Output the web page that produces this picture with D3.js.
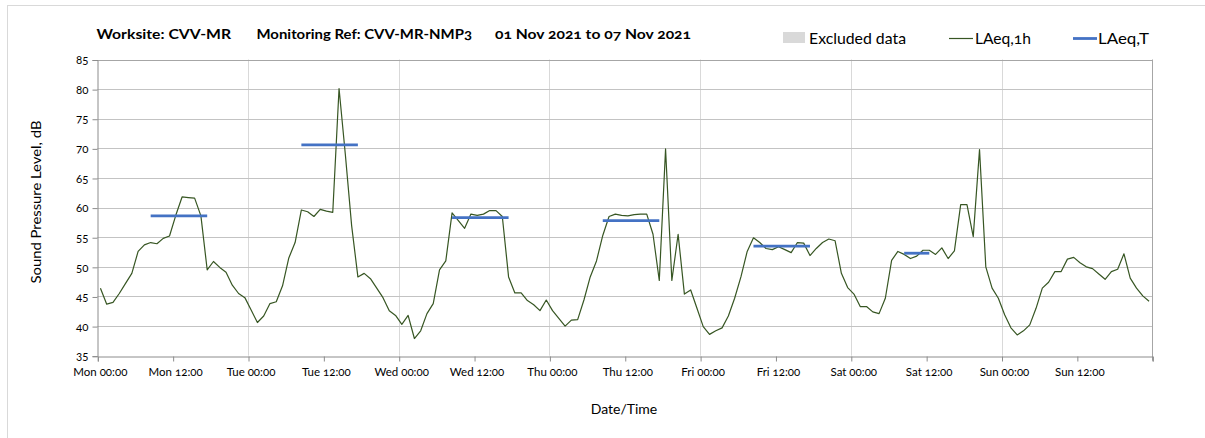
<!DOCTYPE html>
<html>
<head>
<meta charset="utf-8">
<script src="https://cdn.jsdelivr.net/npm/d3@7"></script>
<style>
  html, body { margin: 0; padding: 0; background: #fff; }
  svg { display: block; }
  text { font-family: Lato, "Open Sans", "DejaVu Sans", sans-serif; fill: #000; font-variant-numeric: oldstyle-nums; }
</style>
</head>
<body>
<svg id="chart" width="1205" height="438"></svg>
<script>
// ---------- DATA ----------
const titleParts = ["Worksite: CVV-MR", "Monitoring Ref: CVV-MR-NMP3", "01 Nov 2021 to 07 Nov 2021"];
const legendLabels = ["Excluded data", "LAeq,1h", "LAeq,T"];
const yAxisTitle = "Sound Pressure Level, dB";
const xAxisTitle = "Date/Time";
const startTime = Date.UTC(2021, 10, 1, 0, 0);          // Mon 01 Nov 2021 00:00
const endTime = Date.UTC(2021, 10, 8, 0, 0);
const yTicks = [35, 40, 45, 50, 55, 60, 65, 70, 75, 80, 85];
const xTickLabels = ["Mon 00:00", "Mon 12:00", "Tue 00:00", "Tue 12:00", "Wed 00:00", "Wed 12:00",
  "Thu 00:00", "Thu 12:00", "Fri 00:00", "Fri 12:00", "Sat 00:00", "Sat 12:00", "Sun 00:00", "Sun 12:00"];

// hourly LAeq,1h (one value per hour, Mon 00:00 .. Sun 23:00)
const laeq1h = [
  // Mon
  46.4, 43.7, 44.0, 45.5, 47.2, 48.9, 52.6, 53.7, 54.1, 53.9, 54.8, 55.2,
  58.7, 61.8, 61.7, 61.6, 58.6, 49.5, 50.9, 49.9, 49.1, 46.9, 45.5, 44.8,
  // Tue
  42.7, 40.6, 41.7, 43.8, 44.1, 46.8, 51.5, 54.1, 59.6, 59.3, 58.5, 59.7,
  59.4, 59.2, 80.1, 69.0, 57.0, 48.3, 48.9, 48.0, 46.4, 44.8, 42.6, 41.8,
  // Wed
  40.3, 41.8, 37.9, 39.2, 42.1, 43.8, 49.5, 51.0, 59.1, 57.8, 56.5, 58.9,
  58.7, 58.9, 59.5, 59.5, 58.5, 48.3, 45.6, 45.6, 44.3, 43.6, 42.6, 44.4,
  // Thu
  42.6, 41.3, 40.0, 41.0, 41.1, 44.4, 48.3, 51.0, 55.3, 58.5, 58.9, 58.7,
  58.6, 58.8, 58.9, 58.9, 55.5, 47.7, 69.9, 47.7, 55.5, 45.4, 46.1, 43.0,
  // Fri
  39.9, 38.6, 39.2, 39.7, 41.7, 44.7, 48.3, 52.6, 54.9, 54.1, 53.1, 52.9,
  53.4, 52.9, 52.4, 54.1, 54.0, 51.9, 53.1, 54.1, 54.7, 54.4, 48.9, 46.5,
  // Sat
  45.4, 43.3, 43.3, 42.4, 42.1, 44.7, 51.1, 52.6, 52.1, 51.4, 51.8, 52.8,
  52.8, 52.1, 53.2, 51.4, 52.7, 60.5, 60.5, 55.1, 69.8, 50.0, 46.4, 44.7,
  // Sun
  41.9, 39.7, 38.5, 39.2, 40.2, 43.0, 46.4, 47.4, 49.2, 49.2, 51.3, 51.6,
  50.7, 50.0, 49.7, 48.8, 47.9, 49.2, 49.6, 52.2, 48.1, 46.4, 45.1, 44.2
];

// LAeq,T periods: first and last hour index of each period, and level
const periodStartHour = [8, 32, 56, 80, 104, 128];
const periodEndHour   = [17, 41, 65, 89, 113, 132];
const laeqT           = [58.6, 70.6, 58.3, 57.8, 53.5, 52.3];

// ---------- CHART ----------
const svg = d3.select("#chart");
const W = 1205, H = 438;
const plot = { left: 97.3, right: 1152.2, top: 59.5, bottom: 355.7 };
const HOUR = 3600 * 1000;

// outer chart border (light)
svg.append("rect").attr("x", 7.5).attr("y", 5.5).attr("width", 1220).attr("height", 460)
  .attr("fill", "#fff").attr("stroke", "#d9d9d9").attr("stroke-width", 1);

const x = d3.scaleTime().domain([new Date(startTime), new Date(endTime)]).range([plot.left, plot.right]);
const y = d3.scaleLinear().domain([35, 85]).range([plot.bottom, plot.top]);

const pointTime = i => new Date(startTime + (i + 0.5) * HOUR);

// vertical gridlines (every day)
const dayTicks = d3.range(1, 7).map(d => new Date(startTime + d * 24 * HOUR));
svg.append("g").selectAll("line").data(dayTicks).join("line")
  .attr("x1", d => Math.round(x(d)) + 0.5).attr("x2", d => Math.round(x(d)) + 0.5)
  .attr("y1", plot.top).attr("y2", plot.bottom)
  .attr("stroke", "#d9d9d9").attr("stroke-width", 1);

// horizontal gridlines
svg.append("g").selectAll("line").data(yTicks.slice(1)).join("line")
  .attr("x1", plot.left).attr("x2", plot.right)
  .attr("y1", d => Math.round(y(d)) + 0.5).attr("y2", d => Math.round(y(d)) + 0.5)
  .attr("stroke", d => d === 85 ? "#a6a6a6" : "#c3c3c3").attr("stroke-width", 1);

// right border of plot
svg.append("line").attr("x1", Math.round(plot.right) + 0.5).attr("x2", Math.round(plot.right) + 0.5)
  .attr("y1", plot.top).attr("y2", plot.bottom + 5).attr("stroke", "#a6a6a6");

// y axis
const yAxis = d3.axisLeft(y).tickValues(yTicks).tickSize(5).tickPadding(4).tickFormat(d3.format("d"));
const gy = svg.append("g").attr("transform", `translate(${Math.round(plot.left) + 0.5},0.5)`).call(yAxis);
gy.select(".domain").attr("stroke", "#8c8c8c");
gy.selectAll(".tick line").attr("stroke", "#8c8c8c");
gy.selectAll(".tick text").attr("font-size", 11.5).attr("font-family", "Lato, 'Open Sans', sans-serif").attr("fill", "#222");

// x axis
const xTickValues = d3.range(0, 14).map(k => new Date(startTime + k * 12 * HOUR));
const xAxis = d3.axisBottom(x).tickValues(xTickValues.concat([new Date(endTime)])).tickSize(5).tickPadding(6)
  .tickFormat((d, i) => i < xTickLabels.length ? xTickLabels[i] : "");
const gx = svg.append("g").attr("transform", `translate(0.5,${Math.round(plot.bottom) + 0.5})`).call(xAxis);
gx.select(".domain").attr("stroke", "#8c8c8c");
gx.selectAll(".tick line").attr("stroke", "#8c8c8c");
gx.selectAll(".tick text").attr("font-size", 11.5).attr("font-family", "Lato, 'Open Sans', sans-serif").attr("fill", "#222")
  .attr("dx", 2);

// LAeq,1h line
const line = d3.line().x((d, i) => x(pointTime(i))).y(d => y(d));
svg.append("path").datum(laeq1h).attr("d", line)
  .attr("fill", "none").attr("stroke", "#375623").attr("stroke-width", 1.2).attr("stroke-linejoin", "round");

// LAeq,T segments
svg.append("g").selectAll("line").data(laeqT).join("line")
  .attr("x1", (d, i) => x(pointTime(periodStartHour[i])))
  .attr("x2", (d, i) => x(pointTime(periodEndHour[i])))
  .attr("y1", d => y(d)).attr("y2", d => y(d))
  .attr("stroke", "#4472c4").attr("stroke-width", 2.8);

// title
const titleX = [96.5, 256.5, 495];
const titleW = [134.5, 215.5, 196];
svg.append("g").selectAll("text").data(titleParts).join("text")
  .attr("x", (d, i) => titleX[i]).attr("y", 39)
  .attr("font-size", 14).attr("font-weight", "bold")
  .attr("textLength", (d, i) => titleW[i]).attr("lengthAdjust", "spacingAndGlyphs")
  .text(d => d);

// legend
const lg = svg.append("g");
lg.append("rect").attr("x", 783).attr("y", 32).attr("width", 22).attr("height", 11).attr("fill", "#d9d9d9");
lg.append("line").attr("x1", 949).attr("x2", 973).attr("y1", 38.5).attr("y2", 38.5).attr("stroke", "#375623").attr("stroke-width", 1.2);
lg.append("line").attr("x1", 1073).attr("x2", 1097).attr("y1", 38.5).attr("y2", 38.5).attr("stroke", "#4472c4").attr("stroke-width", 2.8);
const legX = [809, 975, 1098];
const legW = [97, 56, 51];
lg.selectAll("text").data(legendLabels).join("text")
  .attr("x", (d, i) => legX[i]).attr("y", 43.5)
  .attr("font-size", 15)
  .attr("textLength", (d, i) => legW[i]).attr("lengthAdjust", "spacingAndGlyphs")
  .text(d => d);

// axis titles
svg.append("text").attr("transform", "translate(41,202) rotate(-90)")
  .attr("text-anchor", "middle").attr("font-size", 14)
  .attr("textLength", 163).attr("lengthAdjust", "spacingAndGlyphs")
  .text(yAxisTitle);
svg.append("text").attr("x", 624).attr("y", 414)
  .attr("text-anchor", "middle").attr("font-size", 14)
  .text(xAxisTitle);
</script>
</body>
</html>
